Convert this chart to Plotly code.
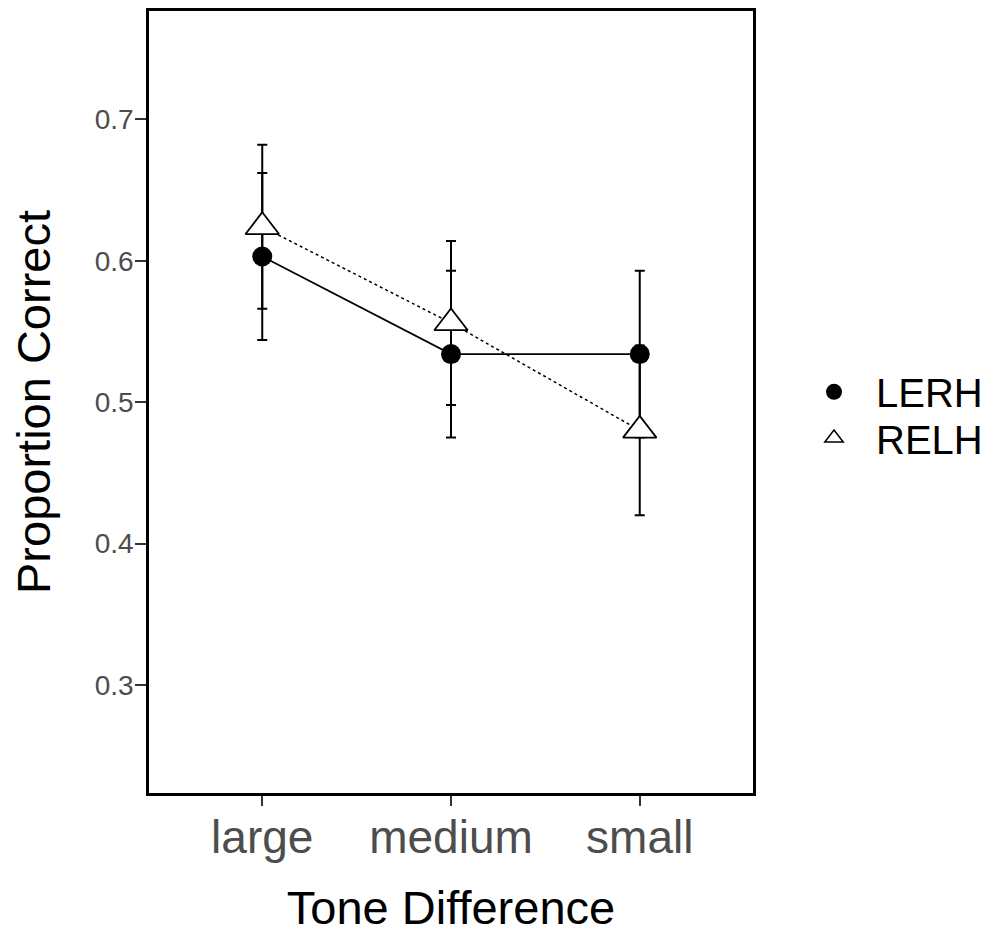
import plotly.graph_objects as go

categories = ["large", "medium", "small"]
lerh_mean = [0.603, 0.534, 0.534]
lerh_se = [0.059, 0.059, 0.059]
relh_mean = [0.624, 0.556, 0.480]
relh_se = [0.058, 0.058, 0.060]
y_ticks = [0.3, 0.4, 0.5, 0.6, 0.7]

FONT = "Liberation Sans, Arial, sans-serif"

fig = go.Figure()

fig.add_trace(go.Scatter(
    x=categories, y=lerh_mean, mode="lines+markers", name="LERH", showlegend=False,
    line=dict(color="black", width=1.7),
    marker=dict(symbol="circle", size=20, color="black"),
    error_y=dict(type="data", array=lerh_se, visible=True, color="black", thickness=2, width=5),
))
fig.add_trace(go.Scatter(
    x=categories, y=relh_mean, mode="lines+markers", name="RELH", showlegend=False,
    line=dict(color="black", width=1.5, dash="3px,3px"),
    marker=dict(symbol="triangle-up", size=29, color="white", line=dict(color="black", width=1.8)),
    error_y=dict(type="data", array=relh_se, visible=True, color="black", thickness=2, width=5),
))
# legend entries (markers only)
fig.add_trace(go.Scatter(
    x=[None], y=[None], mode="markers", name="LERH", legend="legend",
    marker=dict(symbol="circle", size=16, color="black"),
))
fig.add_trace(go.Scatter(
    x=[None], y=[None], mode="markers", name="RELH", legend="legend2",
    marker=dict(symbol="triangle-up", size=16, color="white", line=dict(color="black", width=1.5)),
))

leg_common = dict(
    xanchor="left", yanchor="middle",
    font=dict(size=40, color="black"),
    bgcolor="rgba(0,0,0,0)", itemwidth=74,
)

fig.update_layout(
    width=990, height=934,
    margin=dict(l=149, r=237, t=11, b=141, autoexpand=False),
    paper_bgcolor="white", plot_bgcolor="white",
    font=dict(family=FONT, color="black"),
    showlegend=True,
    legend=dict(x=1.0646, y=0.513, **leg_common),
    legend2=dict(x=1.0646, y=0.454, **leg_common),
)

fig.update_xaxes(
    type="category", categoryorder="array", categoryarray=categories,
    range=[-0.6, 2.6],
    showline=True, linecolor="black", linewidth=2.5, mirror=True,
    ticks="outside", ticklen=10, tickwidth=1.5, tickcolor="#333333",
    ticklabelstandoff=-8,
    tickfont=dict(size=46, color="#4d4d4d"),
    showgrid=False, zeroline=False,
    title=dict(text="Tone Difference", font=dict(size=47, color="black"), standoff=36),
)
fig.update_yaxes(
    range=[0.2236, 0.7766],
    tickvals=y_ticks, ticktext=[f"{v:.1f}" for v in y_ticks],
    showline=True, linecolor="black", linewidth=2.5, mirror=True,
    ticks="outside", ticklen=11, tickwidth=1.5, tickcolor="#333333",
    ticklabelstandoff=-4,
    tickfont=dict(size=28, color="#4d4d4d"),
    showgrid=False, zeroline=False,
    title=dict(text="Proportion Correct", font=dict(size=47, color="black"), standoff=30),
)

fig.write_html("out.html")
